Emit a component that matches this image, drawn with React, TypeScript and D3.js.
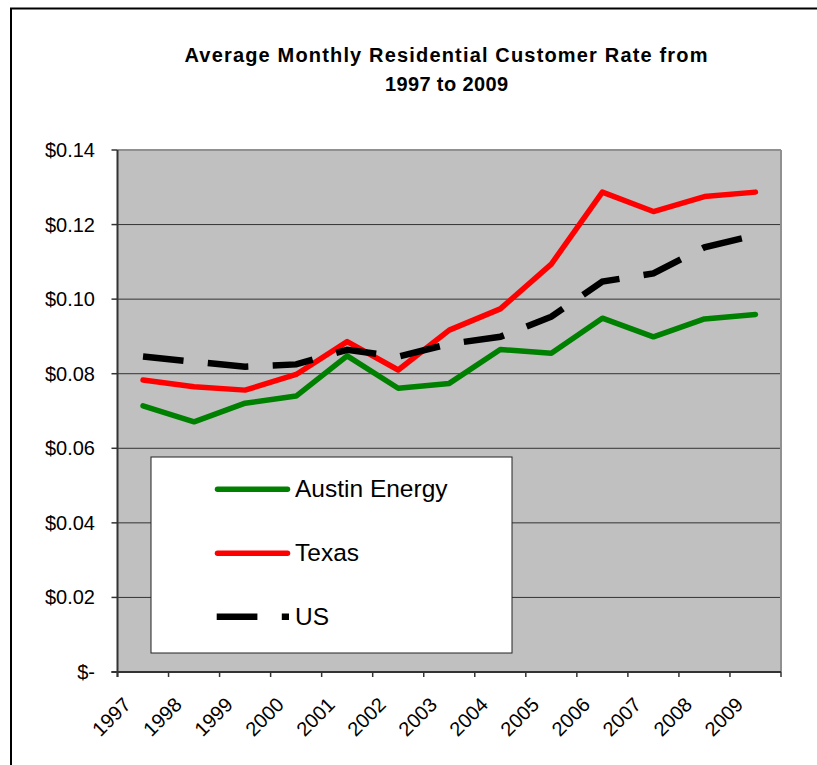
import React from "react";
import * as d3 from "d3";

const years = ["1997","1998","1999","2000","2001","2002","2003","2004","2005","2006","2007","2008","2009"];
const austin = [0.0714, 0.0671, 0.0721, 0.0740, 0.0848, 0.0761, 0.0774, 0.0865, 0.0855, 0.0949, 0.0899, 0.0947, 0.0959];
const texas = [0.0783, 0.0765, 0.0756, 0.0798, 0.0886, 0.0810, 0.0917, 0.0974, 0.1094, 0.1287, 0.1235, 0.1275, 0.1287];
const us = [0.0846, 0.0832, 0.0819, 0.0825, 0.0864, 0.0846, 0.0880, 0.0899, 0.0953, 0.1047, 0.1069, 0.1139, 0.1172];
const yTicks = [0, 0.02, 0.04, 0.06, 0.08, 0.10, 0.12, 0.14];
const titleLines = ["Average Monthly Residential Customer Rate from", "1997 to 2009"];
const seriesNames = ["Austin Energy", "Texas", "US"];

const FONT = "'Liberation Sans', Arial, sans-serif";

export default function App() {
  const left = 117.5, right = 781, top = 150, bottom = 672;
  const x = d3.scaleBand<string>().domain(years).range([left, right]);
  const y = d3.scaleLinear().domain([0, 0.14]).range([bottom, top]);
  const cx = (yr: string) => (x(yr) as number) + x.bandwidth() / 2;
  const line = d3.line<number>().x((_, i) => cx(years[i])).y((v) => y(v));
  const boundaries = years.map((yr) => x(yr) as number).concat([right]);

  const fmt = (v: number) => (v === 0 ? "$-" : "$" + v.toFixed(2));

  return (
    <svg width={817} height={765} style={{ position: "absolute", left: 0, top: 0, background: "#fff" }} fontFamily={FONT}>
      <rect x={11} y={8.5} width={830} height={800} fill="#fff" stroke="#000" strokeWidth={2} />
      <text x={446} y={62.3} textAnchor="middle" fontSize={20} fontWeight="bold" textLength={523} lengthAdjust="spacing">{titleLines[0]}</text>
      <text x={446.5} y={91} textAnchor="middle" fontSize={20} fontWeight="bold" textLength={123} lengthAdjust="spacing">{titleLines[1]}</text>

      <rect x={left} y={top} width={right - left} height={bottom - top} fill="#C0C0C0" />
      {yTicks.filter((t) => t > 0 && t < 0.14).map((t) => (
        <line key={t} x1={left} x2={right} y1={y(t)} y2={y(t)} stroke="#333" strokeWidth={1} />
      ))}
      <line x1={left} x2={right} y1={top} y2={top} stroke="#909090" strokeWidth={2} />
      <line x1={right} x2={right} y1={top} y2={bottom} stroke="#909090" strokeWidth={2} />
      {yTicks.map((t) => (
        <g key={"yt" + t}>
          <line x1={left - 6} x2={left} y1={y(t)} y2={y(t)} stroke="#333" strokeWidth={1.5} />
          <text x={95} y={y(t) + 7} textAnchor="end" fontSize={20} fill="#000">{fmt(t)}</text>
        </g>
      ))}
      {boundaries.map((b, i) => (
        <line key={"xt" + i} x1={b} x2={b} y1={bottom} y2={bottom + 5} stroke="#333" strokeWidth={1.5} />
      ))}
      <line x1={left} x2={left} y1={top} y2={bottom + 5} stroke="#333" strokeWidth={2} />
      <line x1={left - 6} x2={right} y1={bottom} y2={bottom} stroke="#333" strokeWidth={2} />
      {years.map((yr) => (
        <text key={"xl" + yr} transform={`translate(${cx(yr) - 11},706) rotate(-45)`} textAnchor="end" fontSize={20}>{yr}</text>
      ))}

      <path d={line(austin) || ""} fill="none" stroke="#008000" strokeWidth={5.5} strokeLinejoin="round" strokeLinecap="round" />
      <path d={line(texas) || ""} fill="none" stroke="#FF0000" strokeWidth={5.5} strokeLinejoin="round" strokeLinecap="round" />
      <path d={line(us) || ""} fill="none" stroke="#000" strokeWidth={6.5} strokeDasharray="40.7 24.4" strokeLinejoin="miter" />

      <rect x={151} y={457} width={361} height={196} fill="#fff" stroke="#222" strokeWidth={1} />
      <line x1={217.5} x2={287.5} y1={489.3} y2={489.3} stroke="#008000" strokeWidth={5.5} strokeLinecap="round" />
      <text x={295} y={496.7} fontSize={24.5}>{seriesNames[0]}</text>
      <line x1={217.5} x2={287.5} y1={553.3} y2={553.3} stroke="#FF0000" strokeWidth={5.5} strokeLinecap="round" />
      <text x={295} y={561} fontSize={24.5}>{seriesNames[1]}</text>
      <line x1={216.7} x2={289} y1={616.7} y2={616.7} stroke="#000" strokeWidth={6.5} strokeDasharray="40.7 24.4" />
      <text x={295} y={625} fontSize={24.5}>{seriesNames[2]}</text>
    </svg>
  );
}
